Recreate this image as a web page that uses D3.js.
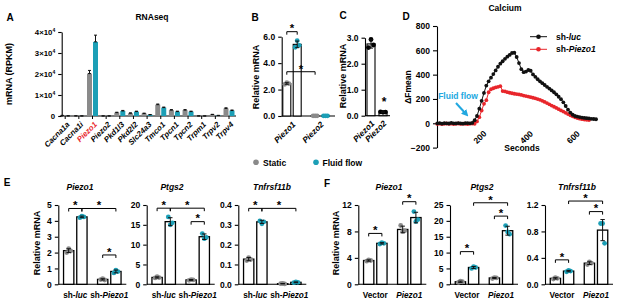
<!DOCTYPE html>
<html><head><meta charset="utf-8">
<script src="https://cdn.jsdelivr.net/npm/d3@7"></script>
<style>
body{margin:0;background:#fff}
svg{display:block;font-family:"Liberation Sans",Arial,sans-serif;font-weight:bold}
</style></head><body>
<svg id="chart" width="617" height="304"></svg>
<script>
// ================= DATA =================
// Panel A – RNAseq
const rnaGenes = ["Cacna1a","Cacna1i","Piezo1","Piezo2","Pkd1l3","Pkd2l2","Slc24a3","Tmco1","Tpcn1","Tpcn2","Trpm1","Trpv2","Trpv4"];
const rnaStatic    = [250, 60, 20200, 30, 1600, 1300, 1200, 5400, 2800, 2800, 40, 700, 3600];
const rnaStaticErr = [60, 20, 1500, 10, 200, 200, 150, 300, 250, 250, 10, 100, 300];
const rnaFlow      = [60, 30, 35300, 30, 2400, 2100, 600, 4000, 2100, 2100, 20, 250, 2600];
const rnaFlowErr   = [20, 10, 3200, 10, 250, 200, 100, 250, 200, 200, 10, 60, 250];
const rnaTicks = [0, 10000, 20000, 30000, 40000];

// Panel B
const bGenes = ["Piezo1","Piezo2"];
const bStaticPts = [[2.4, 2.52, 2.45], [0.01, 0.01, 0.01]];
const bFlowPts   = [[5.2, 5.7, 5.35], [0.01, 0.01, 0.01]];
const bStaticMean = [2.46, 0.01];
const bStaticErr  = [0.06, 0];
const bFlowMean   = [5.42, 0.01];
const bFlowErr    = [0.25, 0];
const bTicks = [0, 2, 4, 6];

// Panel C
const cGenes = ["Piezo1","Piezo2"];
const cPts  = [[2.62, 2.93, 2.72], [0.15, 0.13, 0.14]];
const cMean = [2.76, 0.14];
const cErr  = [0.16, 0.01];
const cTicks = [0, 1, 2, 3];

// Panel D – Calcium
const lucTime = [0,10,20,30,40,50,60,70,80,90,100,110,120,130,140,150,160,170,180,190,200,210,220,230,240,250,260,270,280,290,300,310,320,330,340,350,360,370,380,390,400,410,420,430,440,450,460,470,480,490,500,510,520,530,540,550,560,570,580,590,600,610,620,630,640,650,660,670,680];
const lucValue = [0,2,-3,1,0,-2,3,0,-1,2,0,-3,1,2,0,3,25,60,120,185,250,310,345,375,405,435,465,490,510,530,548,562,578,580,545,495,445,420,425,438,432,402,382,362,345,330,315,300,285,270,255,238,218,198,172,142,112,88,70,60,55,51,47,44,42,40,37,35,33];
const piezoTime = [0,10,20,30,40,50,60,70,80,90,100,110,120,130,140,150,160,170,180,190,200,210,220,230,240,250,260,270,280,290,300,310,320,330,340,350,360,370,380,390,400,410,420,430,440,450,460,470,480,490,500,510,520,530,540,550,560,570,580,590,600,610,620,630,640,650];
const piezoValue = [-5,-3,-6,-4,-2,-5,-3,-6,-4,-2,-5,-3,-4,-6,-3,-2,-4,15,50,105,160,190,255,280,288,295,300,305,265,262,256,251,247,243,240,237,233,228,224,220,215,210,205,199,193,185,176,166,156,146,136,126,116,106,96,86,76,66,57,49,43,38,34,31,29,27];
const caYTicks = [-200, 0, 200, 400, 600, 800];
const caXTicks = [200, 400, 600];

// Panels E & F
const conditions = ["Static","Fluid flow"];
const groupsE = ["sh-luc","sh-Piezo1"];
const groupsF = ["Vector","Piezo1"];

const ePiezo1Pts = [[2.0,2.25,2.1],[4.2,4.3,4.25],[0.3,0.35,0.27],[0.72,0.9,0.8]];
const ePiezo1Mean = [2.12,4.25,0.31,0.81];
const ePiezo1Sd = [0.12,0.05,0.04,0.09];
const ePiezo1Ticks = [0,1,2,3,4,5];

const ePtgs2Pts = [[1.6,1.9,1.7],[17.0,15.0,15.5],[1.0,1.2,1.1],[12.8,11.5,11.8]];
const ePtgs2Mean = [1.73,15.8,1.1,12.0];
const ePtgs2Sd = [0.15,1.0,0.1,0.7];
const ePtgs2Ticks = [0,5,10,15,20];

const eTnfPts = [[0.12,0.135,0.125],[0.32,0.305,0.315],[0.003,0.004,0.002],[0.008,0.012,0.01]];
const eTnfMean = [0.127,0.315,0.003,0.01];
const eTnfSd = [0.008,0.008,0.001,0.002];
const eTnfTicks = [0,0.1,0.2,0.3,0.4];

const fPiezo1Pts = [[3.5,3.7,3.6],[6.1,6.3,6.2],[8.9,8.0,8.1],[11.0,9.5,9.8]];
const fPiezo1Mean = [3.6,6.2,8.3,10.1];
const fPiezo1Sd = [0.1,0.1,0.5,0.8];
const fPiezo1Ticks = [0,4,8,12];

const fPtgs2Pts = [[0.6,1.0,0.8],[5.0,5.6,5.3],[1.8,2.1,2.0],[18.5,16.5,15.8]];
const fPtgs2Mean = [0.8,5.3,2.0,16.9];
const fPtgs2Sd = [0.2,0.3,0.15,1.4];
const fPtgs2Ticks = [0,5,10,15,20,25];

const fTnfPts = [[0.08,0.1,0.09],[0.19,0.21,0.2],[0.3,0.34,0.32],[0.92,0.92,0.62]];
const fTnfMean = [0.09,0.2,0.32,0.82];
const fTnfSd = [0.01,0.01,0.02,0.16];
const fTnfTicks = [0,0.4,0.8,1.2];

// ================= DRAWING =================
const svg = d3.select("#chart");
const GRAY = "#8a8a8a", TEAL = "#1c9fb6", RED = "#e8262b", BLUE = "#22a8e0";
const TICKFS = 8.5;

function text(x, y, s, o = {}) {
  const t = svg.append("text").attr("x", x).attr("y", y)
    .attr("font-size", o.size || 9).attr("text-anchor", o.anchor || "middle")
    .attr("fill", o.fill || "#000");
  if (o.italic) t.attr("font-style", "italic");
  if (o.rotate !== undefined) t.attr("transform", `rotate(${o.rotate},${x},${y})`);
  t.text(s);
  return t;
}
function styleAxis(g, fs) {
  g.attr("font-family", null).attr("font-size", fs).attr("font-weight", "bold");
  g.selectAll("path,line").attr("stroke", "#000").attr("stroke-width", 1.1);
  g.selectAll("text").attr("fill", "#000");
}
function parts(name) {
  if (name.startsWith("sh-")) return [["sh-", false], [name.slice(3), true]];
  if (name === "Vector") return [[name, false]];
  return [[name, true]];
}
function bracket(x1, x2, y) {
  svg.append("path").attr("d", `M${x1},${y + 3}V${y}H${x2}V${y + 3}`)
    .attr("fill", "none").attr("stroke", "#000").attr("stroke-width", 1);
  text((x1 + x2) / 2, y + 0.8, "*", { size: 11.5 });
}
function errBar(x, y1, y2, w) {
  svg.append("path").attr("d", `M${x},${y1}V${y2}M${x - w},${y1}H${x + w}M${x - w},${y2}H${x + w}`)
    .attr("stroke", "#111").attr("stroke-width", 1).attr("fill", "none");
}

// Panel letters
[["A", 10, 21], ["B", 255, 21], ["C", 343, 19], ["D", 406, 20], ["E", 7, 186], ["F", 327, 187]]
  .forEach(([l, x, y]) => text(x, y, l, { size: 10 }));

// ---------- Panel A ----------
{
  const y = d3.scaleLinear().domain([0, 40000]).range([116, 32]);
  const x = d3.scalePoint().domain(rnaGenes).range([65.2, 229]);
  text(152, 20, "RNAseq", { size: 8.5 });
  const ga = svg.append("g").attr("transform", "translate(61.7,0)")
    .call(d3.axisLeft(y).tickValues(rnaTicks).tickSize(3.5).tickSizeOuter(0));
  styleAxis(ga, 7.8);
  ga.selectAll(".tick text").each(function (d) {
    const t = d3.select(this); t.text(null);
    if (d === 0) t.text("0");
    else {
      t.append("tspan").text(`${d / 10000}×10`);
      t.append("tspan").attr("dy", -3.5).attr("font-size", 5).text("4");
    }
  });
  svg.append("line").attr("x1", 61.7).attr("x2", 236).attr("y1", 116).attr("y2", 116)
    .attr("stroke", "#000").attr("stroke-width", 1.1);
  rnaGenes.forEach((g, i) => {
    const cx = x(g);
    svg.append("line").attr("x1", cx).attr("x2", cx).attr("y1", 116).attr("y2", 119).attr("stroke", "#000");
    svg.append("rect").attr("x", cx - 5.5).attr("width", 5).attr("y", y(rnaStatic[i]))
      .attr("height", 116 - y(rnaStatic[i])).attr("fill", GRAY);
    svg.append("rect").attr("x", cx + 0.5).attr("width", 5).attr("y", y(rnaFlow[i]))
      .attr("height", 116 - y(rnaFlow[i])).attr("fill", TEAL);
    errBar(cx - 3, y(rnaStatic[i]), y(rnaStatic[i] + rnaStaticErr[i]), 1.5);
    errBar(cx + 3, y(rnaFlow[i]), y(rnaFlow[i] + rnaFlowErr[i]), 1.5);
    text(cx + 5, 125, g, { size: 7.8, anchor: "end", italic: true, rotate: -45, fill: g === "Piezo1" ? RED : "#000" });
  });
  text(12, 74, "mRNA (RPKM)", { size: 9, rotate: -90 });
}

// ---------- Panel B ----------
{
  const y = d3.scaleLinear().domain([0, 6]).range([116, 36.7]);
  const x = d3.scalePoint().domain(bGenes).range([292, 320.3]);
  const gb = svg.append("g").attr("transform", "translate(281.7,0)")
    .call(d3.axisLeft(y).tickValues(bTicks).tickSize(3.5).tickSizeOuter(0));
  styleAxis(gb, TICKFS);
  svg.append("line").attr("x1", 281.7).attr("x2", 335).attr("y1", 116).attr("y2", 116).attr("stroke", "#000").attr("stroke-width", 1.1);
  bGenes.forEach((g, i) => {
    [[bStaticMean, bStaticErr, bStaticPts, -5.2, GRAY], [bFlowMean, bFlowErr, bFlowPts, 5.2, TEAL]].forEach(([m, e, p, off, col]) => {
      const cx = x(g) + off;
      svg.append("rect").attr("x", cx - 4).attr("width", 8).attr("y", y(m[i])).attr("height", 116 - y(m[i]))
        .attr("fill", "#fff").attr("stroke", "#000").attr("stroke-width", 1.1);
      p[i].forEach((v, k) => svg.append("circle").attr("cx", cx + (k - 1) * 2).attr("cy", y(v)).attr("r", 2.4).attr("fill", col));
      if (e[i] > 0) errBar(cx, y(m[i] - e[i]), y(m[i] + e[i]), 2);
    });
    text(x(g) + 4, 125, g, { size: 8.3, anchor: "end", italic: true, rotate: -45 });
  });
  bracket(x("Piezo1") - 5.2, x("Piezo1") + 5.2, y(6.38));
  bracket(x("Piezo1") - 5.2, x("Piezo2") - 5.2, y(3.35));
  text(259, 77, "Relative mRNA", { size: 9, rotate: -90 });
}

// ---------- Panel C ----------
{
  const y = d3.scaleLinear().domain([0, 3]).range([115.7, 37.7]);
  const x = d3.scalePoint().domain(cGenes).range([371, 383]);
  const gc = svg.append("g").attr("transform", "translate(365,0)")
    .call(d3.axisLeft(y).tickValues(cTicks).tickSize(3.5).tickSizeOuter(0));
  styleAxis(gc, TICKFS);
  svg.append("line").attr("x1", 365).attr("x2", 390).attr("y1", 115.7).attr("y2", 115.7).attr("stroke", "#000").attr("stroke-width", 1.1);
  cGenes.forEach((g, i) => {
    const cx = x(g);
    svg.append("rect").attr("x", cx - 4).attr("width", 8).attr("y", y(cMean[i])).attr("height", 115.7 - y(cMean[i]))
      .attr("fill", "#fff").attr("stroke", "#000").attr("stroke-width", 1.1);
    cPts[i].forEach((v, k) => svg.append("circle").attr("cx", cx + (k - 1) * 2.5).attr("cy", y(v)).attr("r", 2.4).attr("fill", "#000"));
    errBar(cx, y(cMean[i] - cErr[i]), y(cMean[i] + cErr[i]), 2);
    text(cx + 4, 124, g, { size: 8.3, anchor: "end", italic: true, rotate: -45 });
  });
  text(x("Piezo2") + 1, 106, "*", { size: 12 });
  text(346, 76, "Relative mRNA", { size: 9, rotate: -90 });
}

// ---------- Panel D ----------
{
  const x = d3.scaleLinear().domain([0, 700]).range([437.3, 600.7]);
  const y = d3.scaleLinear().domain([-200, 800]).range([147.6, 26]);
  text(505, 11, "Calcium", { size: 8.5 });
  const gd = svg.append("g").attr("transform", "translate(437,0)")
    .call(d3.axisLeft(y).tickValues(caYTicks).tickSize(4).tickSizeOuter(0));
  styleAxis(gd, TICKFS);
  caXTicks.forEach(t => text(x(t) + 3, y(0) + 11, t, { size: TICKFS, anchor: "end", rotate: -45 }));
  text(522, 151, "Seconds", { size: 8.5 });
  text(411, 87, "\u0394Fmean", { size: 8.5, rotate: -90 });
  const line = d3.line().x(d => x(d[0])).y(d => y(d[1]));
  const series = [[piezoTime, piezoValue, RED], [lucTime, lucValue, "#111"]];
  series.forEach(([ts, vs, col]) => {
    const pts = ts.map((t, i) => [t, vs[i]]);
    svg.append("path").attr("d", line(pts)).attr("fill", "none").attr("stroke", col).attr("stroke-width", 1);
    svg.append("g").selectAll("circle").data(pts).join("circle")
      .attr("cx", d => x(d[0])).attr("cy", d => y(d[1])).attr("r", 1.9).attr("fill", col);
  });
  // legend
  [["luc", "#111", 36.7], ["Piezo1", RED, 49.3]].forEach(([n, col, ly]) => {
    svg.append("line").attr("x1", 530).attr("x2", 547).attr("y1", ly).attr("y2", ly).attr("stroke", col).attr("stroke-width", 1);
    svg.append("circle").attr("cx", 538.5).attr("cy", ly).attr("r", 2.3).attr("fill", col);
    const t = text(556, ly + 3, "", { size: 8.5, anchor: "start" });
    t.append("tspan").text("sh-");
    t.append("tspan").attr("font-style", "italic").text(n);
  });
  // fluid flow annotation
  text(458, 98.5, "Fluid flow", { size: 8.5, fill: BLUE });
  svg.append("defs").append("marker").attr("id", "ah").attr("viewBox", "0 0 10 10").attr("refX", 5).attr("refY", 5)
    .attr("markerWidth", 3.5).attr("markerHeight", 3.5).attr("orient", "auto")
    .append("path").attr("d", "M0,0L10,5L0,10z").attr("fill", BLUE);
  svg.append("line").attr("x1", 456).attr("y1", 103).attr("x2", 466).attr("y2", 114)
    .attr("stroke", BLUE).attr("stroke-width", 2).attr("marker-end", "url(#ah)");
}

// ---------- Legend (Static / Fluid flow) ----------
svg.append("circle").attr("cx", 256).attr("cy", 162.3).attr("r", 2.8).attr("fill", GRAY);
text(263, 165.5, "Static", { size: 8.5, anchor: "start" });
svg.append("circle").attr("cx", 316).attr("cy", 162.3).attr("r", 2.8).attr("fill", TEAL);
text(322.5, 165.5, "Fluid flow", { size: 8.5, anchor: "start" });

// ---------- Panels E & F ----------
function barPanel(c) {
  const yTop = 205, yBot = 284.3;
  const y = d3.scaleLinear().domain([0, c.max]).range([yBot, yTop]);
  const xg = d3.scaleBand().domain(c.groups).range([c.axisX, c.axisX + 68]).paddingInner(0.2).paddingOuter(0.1);
  const xs = d3.scaleBand().domain(conditions).range([0, xg.bandwidth()]).paddingInner(0.22).paddingOuter(0.14);
  const bars = [];
  c.groups.forEach(g => conditions.forEach(cond => bars.push(xg(g) + xs(cond) + xs.bandwidth() / 2)));
  const bw = xs.bandwidth();
  const ax = svg.append("g").attr("transform", `translate(${c.axisX},0)`)
    .call(d3.axisLeft(y).tickValues(c.ticks).tickFormat(d3.format(c.fmt)).tickSize(3.5).tickSizeOuter(0));
  styleAxis(ax, TICKFS);
  svg.append("line").attr("x1", c.axisX).attr("x2", c.axisX + 68).attr("y1", yBot).attr("y2", yBot).attr("stroke", "#000").attr("stroke-width", 1.1);
  bars.forEach((cx, i) => {
    svg.append("rect").attr("x", cx - bw / 2).attr("width", bw).attr("y", y(c.means[i])).attr("height", yBot - y(c.means[i]))
      .attr("fill", "#fff").attr("stroke", "#000").attr("stroke-width", 1.3);
    const col = i % 2 === 0 ? GRAY : TEAL;
    c.pts[i].forEach((v, k) => svg.append("circle").attr("cx", cx + (k - 1) * 2).attr("cy", y(v)).attr("r", 2.4).attr("fill", col));
    errBar(cx, y(c.means[i] - c.sds[i]), y(c.means[i] + c.sds[i]), 2.2);
  });
  c.brackets.forEach(([i, j, lv]) => bracket(bars[i], bars[j], y(lv)));
  c.groups.forEach(g => {
    const t = text(xg(g) + xg.bandwidth() / 2, 297.5, "", { size: 8.2 });
    parts(g).forEach(([s, it]) => { const ts = t.append("tspan").text(s); if (it) ts.attr("font-style", "italic"); });
  });
  text(c.titleX, 190, c.title, { size: 8.5, italic: true });
  if (c.ylabelX) text(c.ylabelX, 243, "Relative mRNA", { size: 9, rotate: -90 });
}

barPanel({ axisX: 58.3, max: 5, ticks: ePiezo1Ticks, fmt: "d", groups: groupsE, means: ePiezo1Mean, sds: ePiezo1Sd, pts: ePiezo1Pts,
  brackets: [[0, 1, 4.78], [1, 3, 4.78], [2, 3, 1.85]], title: "Piezo1", titleX: 80, ylabelX: 40 });
barPanel({ axisX: 146.7, max: 20, ticks: ePtgs2Ticks, fmt: "d", groups: groupsE, means: ePtgs2Mean, sds: ePtgs2Sd, pts: ePtgs2Pts,
  brackets: [[0, 1, 19.2], [1, 3, 19.2], [2, 3, 15.8]], title: "Ptgs2", titleX: 172 });
barPanel({ axisX: 238.3, max: 0.4, ticks: eTnfTicks, fmt: ".1f", groups: groupsE, means: eTnfMean, sds: eTnfSd, pts: eTnfPts,
  brackets: [[0, 1, 0.383], [1, 3, 0.383]], title: "Tnfrsf11b", titleX: 272 });
barPanel({ axisX: 358.3, max: 12, ticks: fPiezo1Ticks, fmt: "d", groups: groupsF, means: fPiezo1Mean, sds: fPiezo1Sd, pts: fPiezo1Pts,
  brackets: [[0, 1, 7.7], [2, 3, 12.5]], title: "Piezo1", titleX: 389, ylabelX: 338.5 });
barPanel({ axisX: 450, max: 25, ticks: fPtgs2Ticks, fmt: "d", groups: groupsF, means: fPtgs2Mean, sds: fPtgs2Sd, pts: fPtgs2Pts,
  brackets: [[0, 1, 10.3], [1, 3, 25.7], [2, 3, 21.5]], title: "Ptgs2", titleX: 482 });
barPanel({ axisX: 545, max: 1.2, ticks: fTnfTicks, fmt: ".1f", groups: groupsF, means: fTnfMean, sds: fTnfSd, pts: fTnfPts,
  brackets: [[0, 1, 0.37], [1, 3, 1.26], [2, 3, 1.10]], title: "Tnfrsf11b", titleX: 577 });
</script>
</body></html>
